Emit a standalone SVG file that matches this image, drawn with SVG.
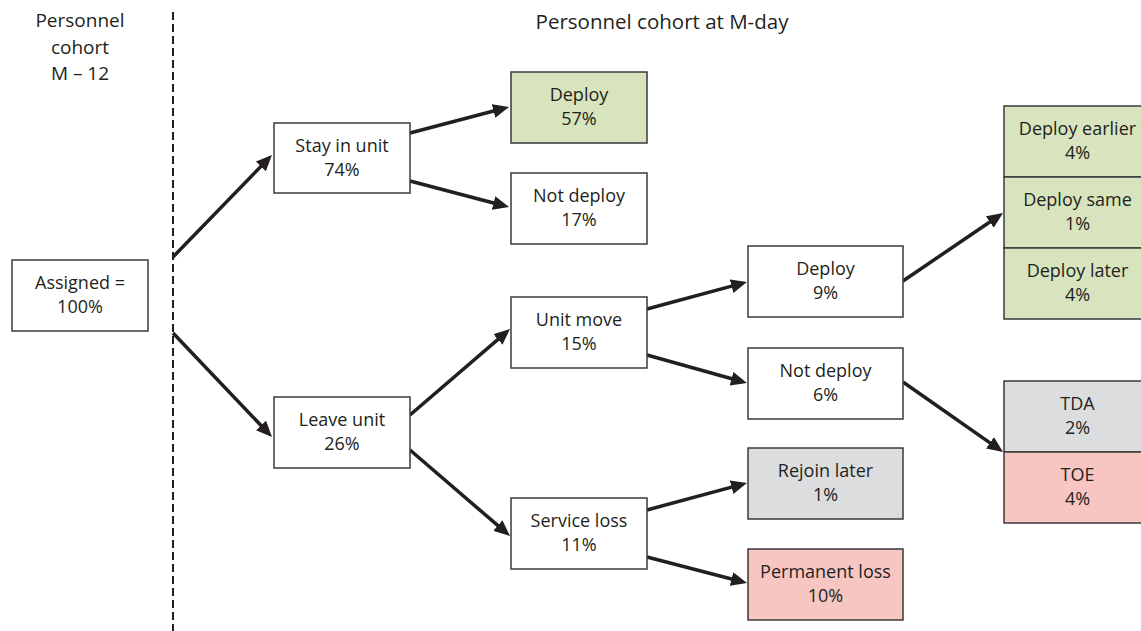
<svg xmlns="http://www.w3.org/2000/svg" width="1141" height="631" viewBox="0 0 1141 631">
<style>
text{font-family:"Open Sans","Noto Sans","Liberation Sans",sans-serif;font-size:18px;fill:#231f20;text-anchor:middle}
text.h{font-size:20.5px}
text.l{font-size:19px}
.b{stroke:#3a3a3a;stroke-width:1.5;fill:#fff}
.g{fill:#d7e4bd}
.y{fill:#dcdddf}
.p{fill:#f7c6c2}
.a{stroke:#231f20;stroke-width:3.5;fill:none;marker-end:url(#ah)}
</style>
<defs>
<marker id="ah" markerUnits="userSpaceOnUse" markerWidth="16" markerHeight="14" refX="4" refY="7" orient="auto">
<path d="M0,0 L16,7 L0,14 Z" fill="#231f20"/>
</marker>
</defs>
<rect width="1141" height="631" fill="#fff"/>
<g id="headers">
<text class="l" x="80" y="27">Personnel</text>
<text class="l" x="80" y="53.5">cohort</text>
<text class="l" x="80" y="80">M – 12</text>
<text class="h" x="662" y="29">Personnel cohort at M-day</text>
</g>
<line id="divider" x1="173" y1="12" x2="173" y2="631" stroke="#231f20" stroke-width="2" stroke-dasharray="8 4"/>
<g id="connectors">
<line class="a" x1="173" y1="257" x2="263.6" y2="163.6"/>
<line class="a" x1="173" y1="333" x2="263.7" y2="428.3"/>
<line class="a" x1="410" y1="133" x2="497.4" y2="110"/>
<line class="a" x1="410" y1="181" x2="497.4" y2="204"/>
<line class="a" x1="410" y1="415" x2="500.9" y2="336.8"/>
<line class="a" x1="410" y1="450" x2="500.9" y2="528.2"/>
<line class="a" x1="647" y1="309" x2="735.4" y2="285.1"/>
<line class="a" x1="647" y1="355" x2="735.4" y2="379.8"/>
<line class="a" x1="647" y1="510" x2="735.4" y2="486.1"/>
<line class="a" x1="647" y1="557" x2="735.4" y2="580"/>
<line class="a" x1="903" y1="281" x2="993.1" y2="219.7"/>
<line class="a" x1="903" y1="382" x2="993.2" y2="445.1"/>
</g>
<g id="assigned"><rect class="b" x="12" y="260" width="136" height="71"/><text x="80" y="289">Assigned =</text><text x="80" y="313">100%</text></g>
<g id="stay"><rect class="b" x="274" y="123" width="136" height="70"/><text x="342" y="151.5">Stay in unit</text><text x="342" y="175.5">74%</text></g>
<g id="leave"><rect class="b" x="274" y="397" width="136" height="71"/><text x="342" y="426">Leave unit</text><text x="342" y="450">26%</text></g>
<g id="deploy57"><rect class="b g" x="511" y="72" width="136" height="71"/><text x="579" y="101">Deploy</text><text x="579" y="125">57%</text></g>
<g id="notdeploy17"><rect class="b" x="511" y="173" width="136" height="71"/><text x="579" y="202">Not deploy</text><text x="579" y="226">17%</text></g>
<g id="unitmove"><rect class="b" x="511" y="297" width="136" height="71"/><text x="579" y="326">Unit move</text><text x="579" y="350">15%</text></g>
<g id="serviceloss"><rect class="b" x="511" y="498" width="136" height="71"/><text x="579" y="527">Service loss</text><text x="579" y="551">11%</text></g>
<g id="deploy9"><rect class="b" x="748" y="246" width="155" height="71"/><text x="825.5" y="275">Deploy</text><text x="825.5" y="299">9%</text></g>
<g id="notdeploy6"><rect class="b" x="748" y="348" width="155" height="71"/><text x="825.5" y="377">Not deploy</text><text x="825.5" y="401">6%</text></g>
<g id="rejoin"><rect class="b y" x="748" y="448" width="155" height="71"/><text x="825.5" y="477">Rejoin later</text><text x="825.5" y="501">1%</text></g>
<g id="permanent"><rect class="b p" x="748" y="549" width="155" height="71"/><text x="825.5" y="578">Permanent loss</text><text x="825.5" y="602">10%</text></g>
<g id="deployearlier"><rect class="b g" x="1004" y="106" width="147" height="71"/><text x="1077.5" y="135">Deploy earlier</text><text x="1077.5" y="159">4%</text></g>
<g id="deploysame"><rect class="b g" x="1004" y="177" width="147" height="71"/><text x="1077.5" y="206">Deploy same</text><text x="1077.5" y="230">1%</text></g>
<g id="deploylater"><rect class="b g" x="1004" y="248" width="147" height="71"/><text x="1077.5" y="277">Deploy later</text><text x="1077.5" y="301">4%</text></g>
<g id="tda"><rect class="b y" x="1004" y="381" width="147" height="71"/><text x="1077.5" y="410">TDA</text><text x="1077.5" y="434">2%</text></g>
<g id="toe"><rect class="b p" x="1004" y="452" width="147" height="71"/><text x="1077.5" y="481">TOE</text><text x="1077.5" y="505">4%</text></g>
</svg>
